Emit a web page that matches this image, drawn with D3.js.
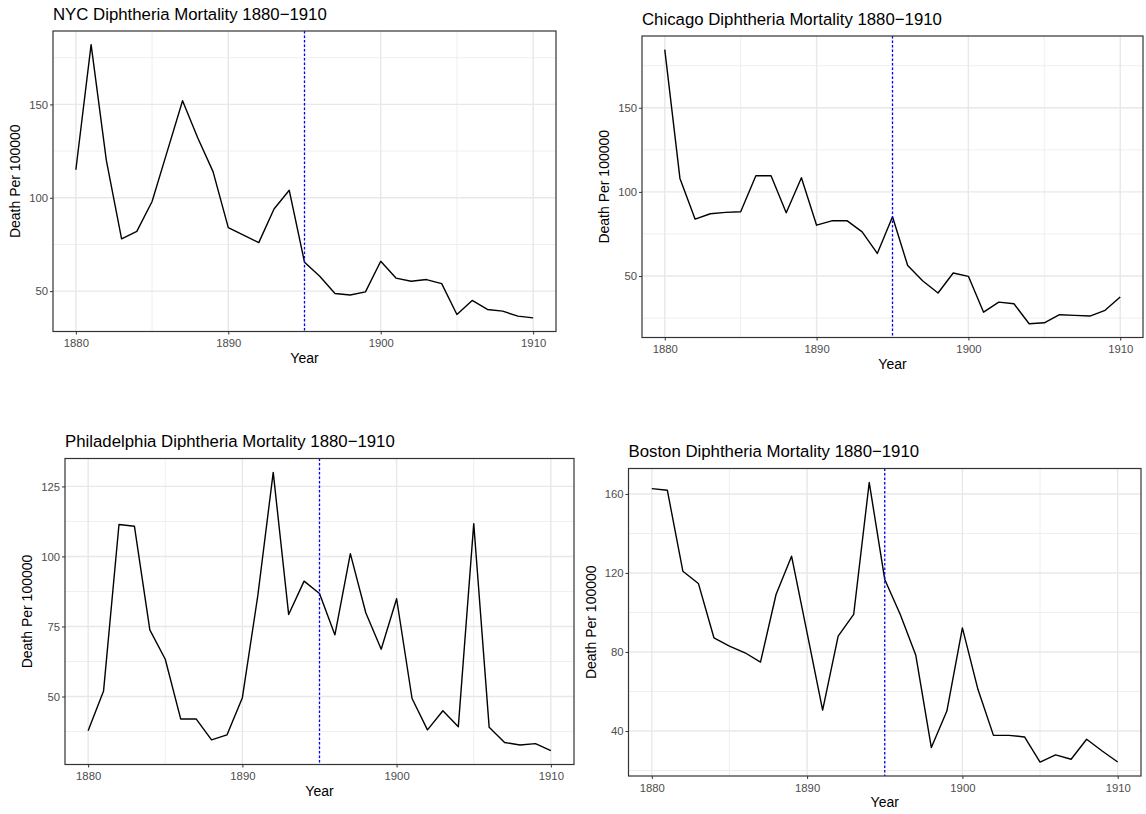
<!DOCTYPE html>
<html>
<head>
<meta charset="utf-8">
<script src="https://cdn.jsdelivr.net/npm/d3@7/dist/d3.min.js"></script>
<style>
  body { margin: 0; background: #fff; }
  svg { font-family: "Liberation Sans", Arial, Helvetica, sans-serif; }
</style>
</head>
<body>
<svg id="chart" width="1146" height="814"></svg>
<script>
// ---- data (deaths per 100,000) ----
const years = [1880, 1881, 1882, 1883, 1884, 1885, 1886, 1887, 1888, 1889,
  1890, 1891, 1892, 1893, 1894, 1895, 1896, 1897, 1898, 1899,
  1900, 1901, 1902, 1903, 1904, 1905, 1906, 1907, 1908, 1909, 1910];

const nycDeaths = [115, 182, 120, 78, 82, 98, 125, 152, 132, 114,
  84, 80, 76, 94, 104, 65.5, 58, 48.7, 47.9, 49.6,
  66, 57, 55.3, 56.2, 54, 37.5, 45, 40.2, 39.3, 36.6, 35.7];

const chicagoDeaths = [184.5, 108, 83.8, 87, 87.8, 88.2, 109.6, 109.6, 87.6, 108.4,
  80.2, 82.8, 82.9, 76.2, 63.4, 85.2, 56.2, 47, 39.9, 51.8,
  49.8, 28.5, 34.5, 33.5, 21.6, 22.2, 27, 26.6, 26.2, 29.6, 37.5];

const phillyDeaths = [37.8, 52, 111.4, 110.8, 73.8, 63.3, 42, 42, 34.5, 36.3,
  49.6, 86, 130, 79.3, 91.2, 86.8, 72, 101, 79.9, 66.9,
  84.9, 49.3, 38.1, 44.9, 39.2, 111.7, 39, 33.6, 32.7, 33.2, 30.7];

const bostonDeaths = [162.7, 161.9, 120.9, 114.7, 87.2, 83, 79.6, 74.9, 109.1, 128.5,
  89.7, 50.6, 88, 99, 165.8, 116.7, 99, 78.3, 31.6, 50.1,
  92.2, 61.1, 37.8, 37.8, 37, 24.3, 27.9, 25.7, 35.8, 29.9, 24.3];

const xTicks = [1880, 1890, 1900, 1910];
const xMinorTicks = [1885, 1895, 1905];
const nycTicks = [50, 100, 150];
const chicagoTicks = [50, 100, 150];
const phillyTicks = [50, 75, 100, 125];
const bostonTicks = [40, 80, 120, 160];
const markerYear = 1895;

// ---- layout: panel boxes in pixels ----
const panels = [
  { city: "NYC", values: nycDeaths, ticks: nycTicks, box: { left: 53, right: 556, top: 31, bottom: 331.5 } },
  { city: "Chicago", values: chicagoDeaths, ticks: chicagoTicks, box: { left: 642, right: 1143, top: 36, bottom: 337.5 } },
  { city: "Philadelphia", values: phillyDeaths, ticks: phillyTicks, box: { left: 65, right: 574, top: 458.5, bottom: 764.5 } },
  { city: "Boston", values: bostonDeaths, ticks: bostonTicks, box: { left: 628.5, right: 1141, top: 468.5, bottom: 776 } }
];

const svg = d3.select("#chart");

function expand(lo, hi, frac) {
  const pad = (hi - lo) * frac;
  return [lo - pad, hi + pad];
}

function drawPanel(p) {
  const b = p.box;
  const rows = years.map((yr, i) => ({ year: yr, value: p.values[i] }));

  const x = d3.scaleLinear()
    .domain([1878.5, 1911.5])
    .range([b.left, b.right]);
  const y = d3.scaleLinear()
    .domain(expand(d3.min(p.values), d3.max(p.values), 0.05))
    .range([b.bottom, b.top]);

  const g = svg.append("g").attr("class", "panel");

  // minor y grid: halfway between major ticks, inside the domain
  const step = p.ticks[1] - p.ticks[0];
  const [y0, y1] = y.domain();
  const yMinor = [];
  for (let v = p.ticks[0] - step / 2; v <= y1; v += step) {
    if (v >= y0) yMinor.push(v);
  }

  const grid = g.append("g").attr("fill", "none");
  grid.selectAll(".ymin").data(yMinor).enter().append("line")
    .attr("x1", b.left).attr("x2", b.right)
    .attr("y1", d => y(d)).attr("y2", d => y(d))
    .attr("stroke", "#efefef").attr("stroke-width", 1);
  grid.selectAll(".xmin").data(xMinorTicks).enter().append("line")
    .attr("y1", b.top).attr("y2", b.bottom)
    .attr("x1", d => x(d)).attr("x2", d => x(d))
    .attr("stroke", "#efefef").attr("stroke-width", 1);
  grid.selectAll(".ymaj").data(p.ticks).enter().append("line")
    .attr("x1", b.left).attr("x2", b.right)
    .attr("y1", d => y(d)).attr("y2", d => y(d))
    .attr("stroke", "#e8e8e8").attr("stroke-width", 1.4);
  grid.selectAll(".xmaj").data(xTicks).enter().append("line")
    .attr("y1", b.top).attr("y2", b.bottom)
    .attr("x1", d => x(d)).attr("x2", d => x(d))
    .attr("stroke", "#e8e8e8").attr("stroke-width", 1.4);

  // series line
  const line = d3.line().x(d => x(d.year)).y(d => y(d.value));
  g.append("path")
    .datum(rows)
    .attr("d", line)
    .attr("fill", "none")
    .attr("stroke", "#000")
    .attr("stroke-width", 1.4)
    .attr("stroke-linejoin", "round");

  // 1895 marker
  g.append("line")
    .attr("x1", x(markerYear)).attr("x2", x(markerYear))
    .attr("y1", b.top).attr("y2", b.bottom)
    .attr("stroke", "#0000ff")
    .attr("stroke-width", 1.3)
    .attr("stroke-dasharray", "2.5,2");

  // panel border
  g.append("rect")
    .attr("x", b.left).attr("y", b.top)
    .attr("width", b.right - b.left).attr("height", b.bottom - b.top)
    .attr("fill", "none").attr("stroke", "#333").attr("stroke-width", 1.2);

  // axes
  const xAxis = g.append("g")
    .attr("transform", `translate(0,${b.bottom})`)
    .call(d3.axisBottom(x).tickValues(xTicks).tickFormat(d3.format("d")).tickSize(3).tickPadding(4.5));
  const yAxis = g.append("g")
    .attr("transform", `translate(${b.left},0)`)
    .call(d3.axisLeft(y).tickValues(p.ticks).tickSize(3).tickPadding(2));

  [xAxis, yAxis].forEach(a => {
    a.select(".domain").remove();
    a.attr("font-family", null).attr("font-size", 11.3);
    a.selectAll(".tick line").attr("stroke", "#333");
    a.selectAll(".tick text").attr("fill", "#4d4d4d");
  });

  // titles
  g.append("text")
    .attr("x", b.left).attr("y", b.top - 11.5)
    .attr("font-size", 16.8)
    .attr("fill", "#000")
    .text(`${p.city} Diphtheria Mortality 1880\u22121910`);

  g.append("text")
    .attr("x", (b.left + b.right) / 2).attr("y", b.bottom + 31)
    .attr("text-anchor", "middle")
    .attr("font-size", 14)
    .text("Year");

  g.append("text")
    .attr("transform", `translate(${b.left - 38},${(b.top + b.bottom) / 2}) rotate(-90)`)
    .attr("text-anchor", "middle")
    .attr("dominant-baseline", "central")
    .attr("font-size", 14)
    .text("Death Per 100000");
}

panels.forEach(drawPanel);
</script>
</body>
</html>
